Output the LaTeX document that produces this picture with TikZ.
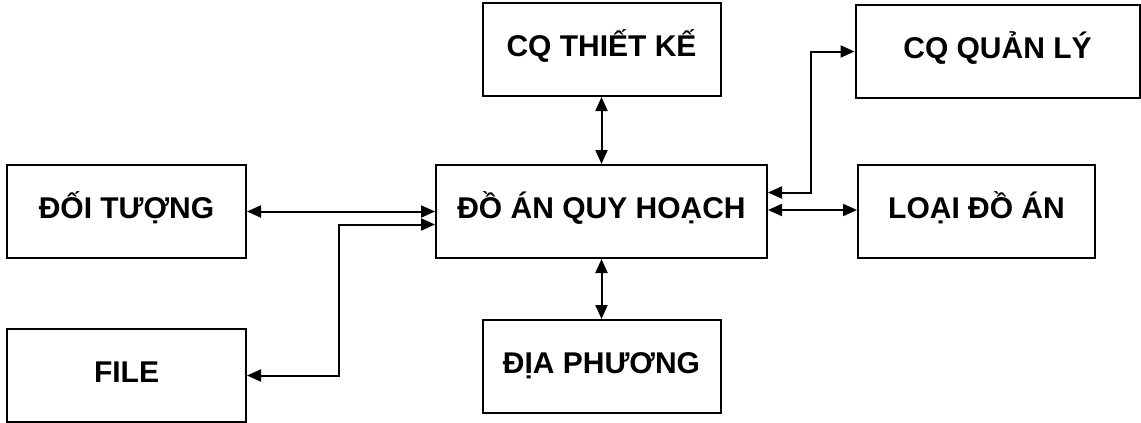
\documentclass[tikz,border=0pt]{standalone}
\usepackage{fontspec}
\setmainfont{Liberation Sans}
\usetikzlibrary{arrows.meta,positioning,calc}

\begin{document}
\begin{tikzpicture}[
  font=\fontsize{30}{35}\selectfont\bfseries,
  node distance=60pt and 89pt,
  box/.style={draw, line width=2pt, inner sep=0pt,
              text height=53pt, text depth=40pt},
  arr/.style={{Triangle[length=14pt,width=12pt]}-{Triangle[length=14pt,width=12pt]},
              line width=2pt}
]
\useasboundingbox (0,0) rectangle (1141pt,-423pt);
% ---------------- centre ----------------
\node[box, minimum width=331pt] (doan) at (601.5pt,-211.5pt) {ĐỒ ÁN QUY HOẠCH};
\node[box, minimum width=238pt, above=67pt of doan] (thietke) {CQ THIẾT KẾ};
\node[box, minimum width=238pt, below=60pt of doan] (diaphuong) {ĐỊA PHƯƠNG};
% ---------------- left ----------------
\node[box, minimum width=239pt, left=188pt of doan] (doituong) {ĐỐI TƯỢNG};
\node[box, minimum width=239pt, below=69pt of doituong] (file) {FILE};
% ---------------- right ----------------
\node[box, minimum width=237pt, right=of doan] (loai) {LOẠI ĐỒ ÁN};
\node[box, minimum width=284pt, above=65pt of loai, xshift=21pt] (quanly) {CQ QUẢN LÝ};
% ---------------- edges ----------------
\draw[arr] (thietke) -- (doan);
\draw[arr] (doan) -- (diaphuong);
\draw[arr] (doituong.east) -- (doituong.east -| doan.west);
\draw[arr] (file.east) -- ++(92pt,0) |- ([yshift=-13pt]doan.west);
\draw[arr] ([yshift=19pt]doan.east) -- ++(43pt,0) |- (quanly.west);
\draw[arr] ([yshift=1.5pt]doan.east) -- ([yshift=1.5pt]doan.east -| loai.west);
\end{tikzpicture}
\end{document}
